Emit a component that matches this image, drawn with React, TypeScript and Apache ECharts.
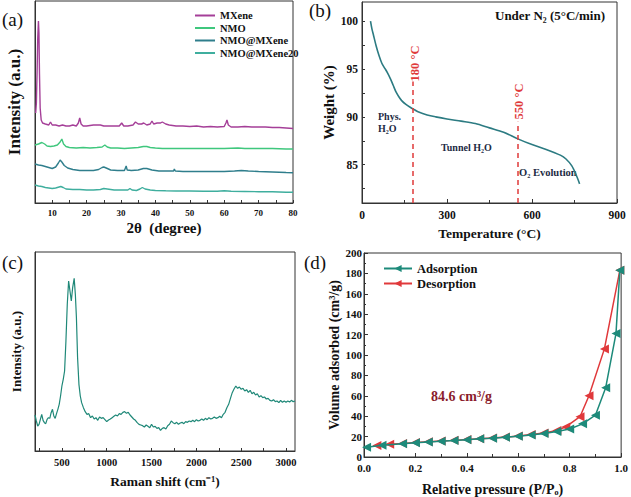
import React, { useEffect, useRef } from "react";
import * as echarts from "echarts";

const FONT = "'Liberation Serif', 'Times New Roman', serif";

// ---- Panel (a): XRD ----
const xrdNames = ["MXene", "NMO", "NMO@MXene", "NMO@MXene20"];
const xrdColors = ["#a53f98", "#3fc77d", "#2f7e8c", "#3fae9e"];
const xrdMXene = [[5.2,90],[5.4,100],[5.6,130],[5.8,165],[6.0,182],[6.15,170],[6.3,130],[6.5,95],[6.8,83],[7.2,80],[8,79],[9,78],[9.5,81],[10,78],[11,78],[12,77],[13,78],[14,77],[15,77],[16,78],[17,77],[17.6,80],[18,85],[18.4,79],[19,77],[20,77],[22,78],[24,78],[25,77],[26,77],[28,77],[29.5,77],[30.2,80],[30.8,77],[32,77],[33.5,78],[34.2,81],[35,79],[36,79],[36.6,80],[37.5,78],[38.5,79],[39,82],[39.5,79],[40.5,80],[41.5,80],[42,81],[43,79],[44,78],[46,77],[48,77],[50,76.5],[52,77],[54,76],[56,76.5],[58,76],[60,76.5],[60.5,80],[60.8,83],[61.2,78],[62,76],[64,76],[66,76.5],[68,76],[70,76],[72,76],[74,75.5],[76,75.5],[78,75],[80,74.5]];
const xrdNMO = [[5,58],[6,59],[7,60.5],[7.8,59],[8.5,57],[9.5,56.5],[10.5,57],[11.5,58],[12.3,61],[12.8,64],[13.3,59],[14,56.5],[15,55.5],[17,55],[19,55.5],[21,55],[23,55.5],[24.5,56],[25.3,58],[26,56],[27,55],[29,55],[31,54.5],[33,55],[35,55.5],[36.5,56.5],[37.5,56.5],[38.5,55.5],[40,55],[42,54.5],[45,54.5],[48,54.5],[52,54.5],[56,54.5],[60,54.5],[64,55],[66,54.5],[70,54.5],[74,54.5],[78,54],[80,54]];
const xrdNMOMX = [[5,39],[6,38],[7,37.5],[8,36.5],[9,35.5],[10,34.5],[11,36],[11.8,40],[12.3,43],[12.8,41],[13.5,37.5],[14.5,35],[16,33.5],[18,32.5],[20,32.5],[22,32.5],[23.5,33.5],[24.5,35.5],[25,36],[25.7,35],[27,33],[29,32.5],[31,32.5],[31.5,37],[31.8,33],[33,32.5],[35,33],[36.5,34.5],[37.5,34.5],[39,33],[41,32],[43,32],[45.3,32],[45.5,34],[45.8,32],[48,31.5],[52,31.5],[56,31.5],[60,31.5],[63,32],[65,32.5],[67,32],[70,31.5],[74,31],[78,30.5],[80,30.3]];
const xrdNMOMX20 = [[5,18],[6,17],[7,16.5],[8,15.5],[9,15],[10,14.5],[11,15],[12,16],[12.5,16.5],[13.2,15.5],[14,14],[16,13.5],[18,13.5],[20,13],[22,13],[24,13.5],[25,14.5],[26,14],[28,13],[30,13],[32,13],[32.6,14.5],[33.2,13],[34.5,12.5],[35.5,14],[36.2,15.5],[37,14],[38.5,13],[40,12.5],[43,12.2],[46,12],[50,12],[54,11.8],[58,11.8],[60,12.3],[62,11.7],[66,11.5],[70,11.3],[74,11.2],[78,10.8],[80,10.7]];
const xrdData = [xrdMXene, xrdNMO, xrdNMOMX, xrdNMOMX20];

// ---- Panel (b): TGA ----
const tgaTemp = [30,35,40,50,60,70,80,90,100,110,120,130,140,155,170,185,200,230,260,300,350,400,450,500,550,600,650,700,720,740,755,768];
const tgaWeight = [100,99.2,98.6,97.4,96.4,95.6,95.1,94.6,94.0,93.3,92.6,92.1,91.7,91.3,91.0,90.75,90.5,90.2,90.0,89.78,89.55,89.3,88.85,88.4,87.7,87.1,86.6,86.0,85.6,84.9,84.0,83.0];
const tgaMarkTemps = [180, 550];
const tgaMarkTops = [93.7, 89.5];
const tgaYTicks = [85, 90, 95, 100];
const tgaYMinor = [82.5, 85, 87.5, 90, 92.5, 95, 97.5, 100];

// ---- Panel (c): Raman ----
const ramanShift = [200,215,230,245,260,275,290,305,320,335,350,365,380,395,410,425,440,455,470,485,500,515,530,545,560,575,590,605,620,637,650,662,675,690,705,720,740,760,780,800,820,840,860,880,900,920,940,960,980,1000,1020,1040,1060,1080,1100,1120,1140,1160,1180,1200,1220,1240,1260,1280,1300,1320,1340,1360,1380,1400,1420,1440,1460,1480,1500,1520,1540,1560,1580,1600,1620,1640,1660,1680,1700,1720,1740,1760,1780,1800,1820,1840,1860,1880,1900,1920,1940,1960,1980,2000,2020,2040,2060,2080,2100,2120,2140,2160,2180,2200,2220,2240,2260,2280,2300,2320,2340,2360,2380,2400,2420,2440,2460,2480,2500,2520,2540,2560,2580,2600,2620,2640,2660,2680,2700,2720,2740,2760,2780,2800,2820,2840,2860,2880,2900,2920,2940,2960,2980,3000,3020,3040,3060,3080,3100];
const ramanInt = [108,90,75,80,95,110,92,85,82,95,100,98,115,125,105,98,112,125,140,165,195,215,240,330,440,510,480,450,490,518,470,400,280,200,165,145,130,118,110,112,100,105,96,100,92,102,98,100,94,88,93,96,100,104,108,105,112,110,116,118,113,116,108,102,96,92,85,80,78,76,72,78,74,70,80,72,74,68,70,62,68,70,66,76,80,90,85,82,86,80,84,86,82,88,86,90,88,92,88,94,90,92,96,92,98,94,100,96,98,102,98,100,104,100,110,116,130,140,158,175,186,195,188,192,185,188,180,184,176,182,172,176,168,172,162,166,160,162,156,158,152,150,154,148,150,145,152,146,150,146,150,147,152,148,150];
const ramanLabelTicks = [500, 1000, 1500, 2000, 2500, 3000];
const ramanTicks = [250,500,750,1000,1250,1500,1750,2000,2250,2500,2750,3000];

// ---- Panel (d): BET ----
const adsP = [0.01,0.07,0.15,0.2,0.25,0.3,0.35,0.4,0.45,0.5,0.55,0.6,0.65,0.7,0.75,0.8,0.85,0.9,0.94,0.98,0.995];
const adsV = [9.5,11.5,13,14,14.8,15.5,16.2,17,17.8,18.5,19.3,20.3,21.5,23,25,27.5,32.5,41,68,121,183];
const desP = [0.995,0.935,0.875,0.84,0.785,0.75,0.7,0.65,0.6,0.55,0.5,0.45,0.4,0.35,0.3,0.25,0.2,0.15,0.1,0.05];
const desV = [183,106,60,39.5,29.5,26,23.5,22,20.6,19.5,18.6,17.9,17.1,16.3,15.6,14.9,14.1,13.2,12.4,11.2];

const zip = (a: number[], b: number[]) => a.map((v, i) => [v, b[i]]);

const axisLineStyle = { show: true, lineStyle: { color: "#333", width: 1 } };

export default function App() {
  const ref = useRef<HTMLDivElement>(null);
  useEffect(() => {
    const chart = echarts.init(ref.current!, null, { renderer: "svg" });
    const gridBase = { show: true, borderColor: "#333", borderWidth: 1, backgroundColor: "transparent" };
    const option: any = {
      animation: false,
      backgroundColor: "#fff",
      textStyle: { fontFamily: FONT },
      grid: [
        { ...gridBase, left: 35, top: 1, width: 258, height: 202 },
        { ...gridBase, left: 362, top: 2, width: 255, height: 201 },
        { ...gridBase, left: 35, top: 252, width: 260, height: 199 },
        { ...gridBase, left: 364, top: 253, width: 258, height: 208 },
      ],
      xAxis: [
        {
          gridIndex: 0, type: "value", min: 5, max: 80, interval: 5,
          axisLine: axisLineStyle, splitLine: { show: false },
          axisTick: { inside: true, length: 3, lineStyle: { color: "#333" } },
          axisLabel: { margin: 5, color: "#111", fontFamily: FONT, fontWeight: "bold", fontSize: 9,
            formatter: (v: number) => (v % 10 === 0 ? String(v) : "") },
          name: "2θ  (degree)", nameLocation: "middle", nameGap: 17,
          nameTextStyle: { fontFamily: FONT, fontWeight: "bold", fontSize: 15, color: "#111" },
        },
        {
          gridIndex: 1, type: "value", min: 0, max: 900, interval: 300,
          axisLine: axisLineStyle, splitLine: { show: false },
          axisTick: { inside: true, length: 4, lineStyle: { color: "#333" } },
          minorTick: { show: true, splitNumber: 2, length: 3, lineStyle: { color: "#333" } },
          axisLabel: { margin: 6, color: "#111", fontFamily: FONT, fontWeight: "bold", fontSize: 11.5 },
          name: "Temperature (°C)", nameLocation: "middle", nameGap: 23,
          nameTextStyle: { fontFamily: FONT, fontWeight: "bold", fontSize: 13.5, color: "#111" },
        },
        {
          gridIndex: 2, type: "value", min: 200, max: 3100,
          axisLine: axisLineStyle, splitLine: { show: false },
          axisTick: { inside: true, length: 3, customValues: ramanTicks, lineStyle: { color: "#333" } },
          axisLabel: { margin: 6, color: "#111", fontFamily: FONT, fontWeight: "bold", fontSize: 10.5,
            customValues: ramanLabelTicks, formatter: (v: number) => String(v) },
          name: "Raman shift (cm⁻¹)", nameLocation: "middle", nameGap: 23,
          nameTextStyle: { fontFamily: FONT, fontWeight: "bold", fontSize: 13.5, color: "#111" },
        },
        {
          gridIndex: 3, type: "value", min: 0, max: 1, interval: 0.2,
          axisLine: axisLineStyle, splitLine: { show: false },
          axisTick: { inside: true, length: 4, lineStyle: { color: "#333" } },
          minorTick: { show: true, splitNumber: 2, length: 3, lineStyle: { color: "#333" } },
          axisLabel: { margin: 5, color: "#111", fontFamily: FONT, fontWeight: "bold", fontSize: 11,
            formatter: (v: number) => v.toFixed(1) },
          name: "Relative pressure (P/Pₒ)", nameLocation: "middle", nameGap: 25,
          nameTextStyle: { fontFamily: FONT, fontWeight: "bold", fontSize: 14, color: "#111" },
        },
      ],
      yAxis: [
        {
          gridIndex: 0, type: "value", min: 0, max: 202,
          axisLine: axisLineStyle, splitLine: { show: false }, axisTick: { show: false }, axisLabel: { show: false },
          name: "Intensity (a.u.)", nameLocation: "middle", nameGap: 12,
          nameTextStyle: { fontFamily: FONT, fontWeight: "bold", fontSize: 17, color: "#111" },
        },
        {
          gridIndex: 1, type: "value", min: 81, max: 102,
          axisLine: axisLineStyle, splitLine: { show: false },
          axisTick: { inside: true, length: 3, customValues: tgaYMinor, lineStyle: { color: "#333" } },
          axisLabel: { margin: 4, color: "#111", fontFamily: FONT, fontWeight: "bold", fontSize: 11.5, customValues: tgaYTicks },
          name: "Weight (%)", nameLocation: "middle", nameGap: 22,
          nameTextStyle: { fontFamily: FONT, fontWeight: "bold", fontSize: 15, color: "#111" },
        },
        {
          gridIndex: 2, type: "value", min: 0, max: 597,
          axisLine: axisLineStyle, splitLine: { show: false }, axisTick: { show: false }, axisLabel: { show: false },
          name: "Intensity (a.u.)", nameLocation: "middle", nameGap: 12,
          nameTextStyle: { fontFamily: FONT, fontWeight: "bold", fontSize: 13, color: "#111" },
        },
        {
          gridIndex: 3, type: "value", min: 0, max: 200, interval: 20,
          axisLine: axisLineStyle, splitLine: { show: false },
          axisTick: { inside: true, length: 4, lineStyle: { color: "#333" } },
          minorTick: { show: true, splitNumber: 2, length: 2, lineStyle: { color: "#333" } },
          axisLabel: { margin: 2, color: "#111", fontFamily: FONT, fontWeight: "bold", fontSize: 11 },
          name: "Volume adsorbed (cm³/g)", nameLocation: "middle", nameGap: 23,
          nameTextStyle: { fontFamily: FONT, fontWeight: "bold", fontSize: 14, color: "#111" },
        },
      ],
      legend: [
        {
          data: xrdNames, orient: "vertical", left: 190, top: 5, icon: "rect", itemWidth: 20, itemHeight: 2, itemGap: 1.5,
          textStyle: { fontFamily: FONT, fontWeight: "bold", fontSize: 10.5, color: "#111" },
        },
        {
          data: ["Adsorption", "Desorption"], orient: "vertical", left: 378, top: 257, itemWidth: 28, itemHeight: 9, itemGap: 2,
          textStyle: { fontFamily: FONT, fontWeight: "bold", fontSize: 12.5, color: "#111" },
        },
      ],
      series: [
        ...xrdData.map((d, i) => ({
          name: xrdNames[i], type: "line", xAxisIndex: 0, yAxisIndex: 0, data: d, symbol: "none",
          lineStyle: { color: xrdColors[i], width: 1.4 }, itemStyle: { color: xrdColors[i] },
        })),
        {
          name: "TGA", type: "line", xAxisIndex: 1, yAxisIndex: 1, data: zip(tgaTemp, tgaWeight), symbol: "none", smooth: 0.3,
          lineStyle: { color: "#2c7b82", width: 1.6 },
          markLine: {
            silent: true, symbol: "none", label: { show: false },
            lineStyle: { type: [5, 4], color: "#e03a3a", width: 1.5 },
            data: tgaMarkTemps.map((t, i) => [{ coord: [t, 81] }, { coord: [t, tgaMarkTops[i]] }]),
          },
        },
        {
          name: "Raman", type: "line", xAxisIndex: 2, yAxisIndex: 2, data: zip(ramanShift, ramanInt), symbol: "none",
          lineStyle: { color: "#1f8878", width: 1.2 },
        },
        {
          name: "Adsorption", type: "line", xAxisIndex: 3, yAxisIndex: 3, data: zip(adsP, adsV), z: 3,
          symbol: "triangle", symbolRotate: 90, symbolSize: 9,
          lineStyle: { color: "#1d8a7a", width: 1.5 }, itemStyle: { color: "#1d8a7a" },
        },
        {
          name: "Desorption", type: "line", xAxisIndex: 3, yAxisIndex: 3, data: zip(desP, desV), z: 2,
          symbol: "triangle", symbolRotate: 90, symbolSize: 9,
          lineStyle: { color: "#e0393b", width: 1.5 }, itemStyle: { color: "#e0393b" },
        },
      ],
      graphic: [
        { type: "text", left: 2, top: 10, style: { text: "(a)", fontFamily: FONT, fontSize: 19, fill: "#111" } },
        { type: "text", left: 309, top: 1, style: { text: "(b)", fontFamily: FONT, fontSize: 19, fill: "#111" } },
        { type: "text", left: 2, top: 253, style: { text: "(c)", fontFamily: FONT, fontSize: 19, fill: "#111" } },
        { type: "text", left: 304, top: 253, style: { text: "(d)", fontFamily: FONT, fontSize: 19, fill: "#111" } },
        { type: "text", left: 495, top: 9, style: { text: "Under N₂ (5°C/min)", fontFamily: FONT, fontWeight: "bold", fontSize: 13, fill: "#111" } },
        { type: "text", left: 378, top: 111, style: { text: "Phys.", fontFamily: FONT, fontWeight: "bold", fontSize: 10, fill: "#1d2b44" } },
        { type: "text", left: 378, top: 123, style: { text: "H₂O", fontFamily: FONT, fontWeight: "bold", fontSize: 10, fill: "#1d2b44" } },
        { type: "text", left: 441, top: 142, style: { text: "Tunnel H₂O", fontFamily: FONT, fontWeight: "bold", fontSize: 10, fill: "#1d2b44" } },
        { type: "text", left: 519, top: 167, style: { text: "O₂ Evolution", fontFamily: FONT, fontWeight: "bold", fontSize: 10.5, fill: "#1d2b44" } },
        { type: "text", x: 414.5, y: 63.5, rotation: Math.PI / 2,
          style: { text: "180 °C", fontFamily: FONT, fontWeight: "bold", fontSize: 12.5, fill: "#e03a3a", align: "center", verticalAlign: "middle" } },
        { type: "text", x: 518.5, y: 101.5, rotation: Math.PI / 2,
          style: { text: "550 °C", fontFamily: FONT, fontWeight: "bold", fontSize: 12.5, fill: "#e03a3a", align: "center", verticalAlign: "middle" } },
        { type: "text", x: 461.5, y: 396.5,
          style: { text: "84.6 cm³/g", fontFamily: FONT, fontWeight: "bold", fontSize: 14, fill: "#8b1c2c", align: "center", verticalAlign: "middle" } },
      ],
    };
    chart.setOption(option);
    return () => chart.dispose();
  }, []);
  return (
    <div
      ref={ref}
      style={{ position: "absolute", left: 0, top: 0, width: 631, height: 497, background: "#fff" }}
    />
  );
}
